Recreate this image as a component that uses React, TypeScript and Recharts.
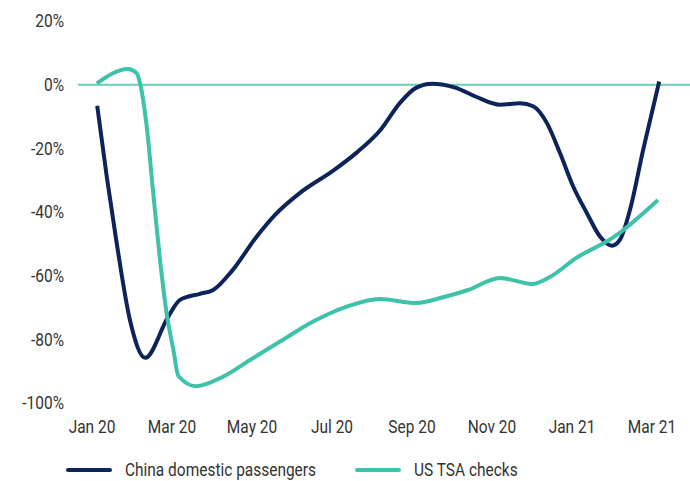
import { LineChart, Line, XAxis, YAxis, ReferenceLine, Legend } from "recharts";

// months since Jan 2020
const monthLabels = ["Jan 20", "Mar 20", "May 20", "Jul 20", "Sep 20", "Nov 20", "Jan 21", "Mar 21"];
const monthTicks = [0, 2, 4, 6, 8, 10, 12, 14];
const percentTicks = [20, 0, -20, -40, -60, -80, -100];

const chinaTime = [0.13, 0.37, 0.62, 0.95, 1.33, 1.9, 2.2, 2.7, 3.03, 3.5, 4.1, 4.6, 5.2, 6.03, 6.6, 7.2, 7.7, 8.1, 8.5, 9.1, 9.6, 10.2, 10.7, 11.03, 11.37, 11.7, 12.03, 12.37, 12.7, 13.0, 13.2, 13.45, 13.78, 14.18];
const chinaValues = [-6.6, -29, -50, -74, -85.8, -73, -67.6, -65.7, -64.5, -58.5, -48, -40.6, -34, -27, -21.5, -14.4, -5.7, -1, 0.3, -1, -3.8, -6.3, -5.8, -6.8, -12, -21.5, -32, -40.3, -47.7, -50.6, -48.7, -39.3, -20.4, 1];

const tsaTime = [0.12, 0.9, 1.12, 1.2, 1.37, 1.53, 1.7, 1.88, 2.03, 2.16, 2.6, 3.28, 3.95, 4.7, 5.53, 6.37, 7.2, 8.1, 8.8, 9.4, 10.2, 11.0, 11.45, 12.1, 13.03, 14.15];
const tsaValues = [0.4, 4.9, 3.6, 0.5, -13.4, -34, -55, -73, -83, -91.5, -94.7, -91.7, -86.5, -80.7, -74.4, -69.7, -67.3, -68.6, -66.7, -64.5, -60.7, -62.6, -60.4, -54.5, -48, -36.2];

const chinaData = chinaTime.map((t, i) => ({ t, v: chinaValues[i] }));
const tsaData = tsaTime.map((t, i) => ({ t, v: tsaValues[i] }));

const NAVY = "#0c245a";
const TEAL = "#3ec2a9";
const FONT = "Roboto, 'Liberation Sans', sans-serif";
const SQUEEZE = 0.86;

const legendItems = [
  { name: "China domestic passengers", color: NAVY, x: 66 },
  { name: "US TSA checks", color: TEAL, x: 355 },
];

function XTick({ x, y, payload }: any) {
  return (
    <g transform={`translate(${x},${y})`}>
      <text transform={`scale(${SQUEEZE},1)`} textAnchor="middle" dy="0.71em" fill="#333" fontSize={18} fontFamily={FONT}>
        {monthLabels[monthTicks.indexOf(payload.value)]}
      </text>
    </g>
  );
}

function YTick({ x, y, payload }: any) {
  return (
    <g transform={`translate(${x},${y})`}>
      <text transform={`scale(${SQUEEZE},1)`} textAnchor="end" dy="0.355em" fill="#333" fontSize={18} fontFamily={FONT}>
        {`${payload.value}%`}
      </text>
    </g>
  );
}

function ChartLegend() {
  return (
    <svg width={690} height={38} style={{ display: "block" }}>
      {legendItems.map((item) => (
        <g key={item.name}>
          <line x1={item.x + 2} y1={27} x2={item.x + 44} y2={27} stroke={item.color} strokeWidth={4} strokeLinecap="round" />
          <g transform={`translate(${item.x + 59},27)`}>
            <text transform={`scale(${SQUEEZE},1)`} dy="0.355em" fill="#333" fontSize={18} fontFamily={FONT}>
              {item.name}
            </text>
          </g>
        </g>
      ))}
    </svg>
  );
}

export default function App() {
  return (
    <div style={{ position: "absolute", left: 0, top: 0 }}>
      <LineChart width={690} height={481} margin={{ top: 21, right: 0, bottom: 0, left: 0 }}>
        <XAxis
          type="number"
          dataKey="t"
          domain={[-0.35, 14.95]}
          ticks={monthTicks}
          allowDataOverflow
          axisLine={false}
          tickLine={false}
          tickSize={0}
          tickMargin={17}
          height={40}
          tick={<XTick />}
        />
        <YAxis
          type="number"
          domain={[-100, 20]}
          ticks={percentTicks}
          axisLine={false}
          tickLine={false}
          tickSize={0}
          tickMargin={14}
          width={78}
          tick={<YTick />}
        />
        <ReferenceLine y={0} stroke="#6acdb9" strokeWidth={2} />
        <Line data={chinaData} dataKey="v" type="monotone" stroke={NAVY} strokeWidth={4} dot={false} isAnimationActive={false} name="China domestic passengers" />
        <Line data={tsaData} dataKey="v" type="monotone" stroke={TEAL} strokeWidth={4} dot={false} isAnimationActive={false} name="US TSA checks" />
        <Legend verticalAlign="bottom" content={() => <ChartLegend />} />
      </LineChart>
    </div>
  );
}
